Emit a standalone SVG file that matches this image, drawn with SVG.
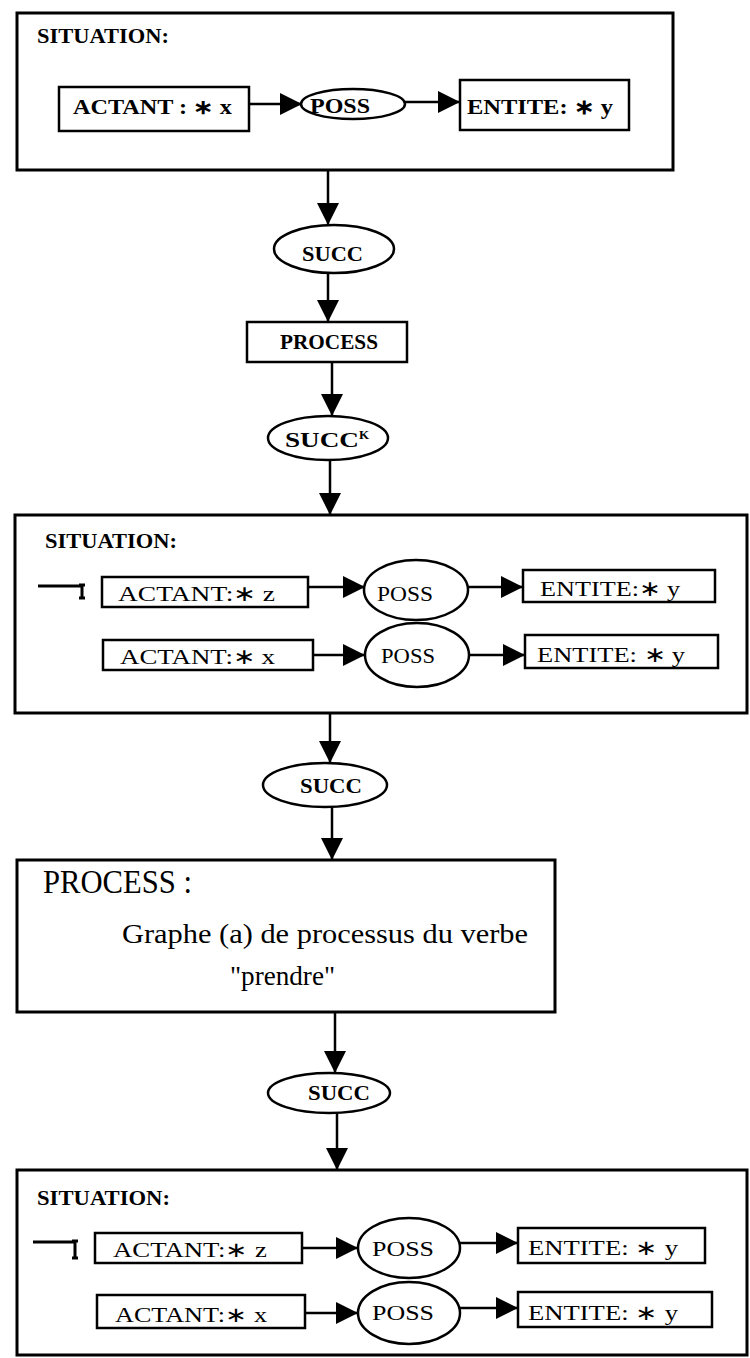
<svg xmlns="http://www.w3.org/2000/svg" width="750" height="1358" viewBox="0 0 750 1358">
<style>
text{font-family:"Liberation Serif","Times New Roman",serif;fill:#000}
.b{font-weight:bold}
.frame{fill:none;stroke:#000;stroke-width:3}
.box{fill:#fff;stroke:#000;stroke-width:2.5}
.ell{fill:#fff;stroke:#000;stroke-width:2.5}
.con{fill:none;stroke:#000;stroke-width:2.5}
.neg{fill:none;stroke:#000;stroke-width:3}
</style>
<defs>
<marker id="ah" markerUnits="userSpaceOnUse" markerWidth="22" markerHeight="22" refX="22" refY="11" orient="auto">
<path d="M0,0 L22,11 L0,22 z" fill="#000"/>
</marker>
</defs>
<rect x="0" y="0" width="750" height="1358" fill="#fff"/>

<!-- Situation 1 -->
<g id="situation1">
<rect class="frame" x="17" y="13" width="656" height="157"/>
<text class="b" x="37" y="43" font-size="21" textLength="132" lengthAdjust="spacingAndGlyphs">SITUATION:</text>
</g>
<g id="s1_actant">
<rect class="box" x="59" y="87" width="190" height="44"/>
<text class="b" x="73" y="114" font-size="20" textLength="159" lengthAdjust="spacingAndGlyphs">ACTANT : ∗ x</text>
</g>
<g id="s1_poss">
<ellipse class="ell" cx="353" cy="104" rx="52" ry="15"/>
<text class="b" x="310" y="113" font-size="21" textLength="60" lengthAdjust="spacingAndGlyphs">POSS</text>
</g>
<g id="s1_entite">
<rect class="box" x="460" y="80" width="169" height="50"/>
<text class="b" x="467" y="114" font-size="21" textLength="146" lengthAdjust="spacingAndGlyphs">ENTITE: ∗ y</text>
</g>

<g id="succ1">
<ellipse class="ell" cx="334" cy="249" rx="60" ry="24"/>
<text class="b" x="302" y="261" font-size="22" textLength="61" lengthAdjust="spacingAndGlyphs">SUCC</text>
</g>
<g id="process1">
<rect class="box" x="247" y="322" width="160" height="40"/>
<text class="b" x="280" y="349" font-size="20" textLength="98" lengthAdjust="spacingAndGlyphs">PROCESS</text>
</g>
<g id="succk">
<ellipse class="ell" cx="328" cy="438" rx="60" ry="22"/>
<text class="b" x="285" y="447" font-size="21"><tspan textLength="74" lengthAdjust="spacingAndGlyphs">SUCC</tspan><tspan dy="-8" font-size="13">K</tspan></text>
</g>

<!-- Situation 2 -->
<g id="situation2">
<rect class="frame" x="15" y="515" width="732" height="198"/>
<text class="b" x="45" y="548" font-size="21" textLength="132" lengthAdjust="spacingAndGlyphs">SITUATION:</text>
<path class="neg" d="M38,586 H82 M82,585 V598 M79,585 H85 M79,598 H85"/>
</g>
<g id="s2_actant_z">
<rect class="box" x="102" y="577" width="206" height="30"/>
<text x="118" y="601" font-size="22" textLength="157" lengthAdjust="spacingAndGlyphs">ACTANT:∗ z</text>
</g>
<g id="s2_actant_x">
<rect class="box" x="103" y="640" width="210" height="30"/>
<text x="120" y="664" font-size="22" textLength="155" lengthAdjust="spacingAndGlyphs">ACTANT:∗ x</text>
</g>
<g id="s2_poss_z">
<ellipse class="ell" cx="416" cy="590" rx="52" ry="30"/>
<text x="377" y="601" font-size="22" textLength="56" lengthAdjust="spacingAndGlyphs">POSS</text>
</g>
<g id="s2_poss_x">
<ellipse class="ell" cx="417" cy="655" rx="52" ry="32"/>
<text x="381" y="663" font-size="22" textLength="54" lengthAdjust="spacingAndGlyphs">POSS</text>
</g>
<g id="s2_entite_z">
<rect class="box" x="523" y="570" width="192" height="32"/>
<text x="540" y="596" font-size="22" textLength="140" lengthAdjust="spacingAndGlyphs">ENTITE:∗ y</text>
</g>
<g id="s2_entite_x">
<rect class="box" x="525" y="635" width="193" height="33"/>
<text x="537" y="662" font-size="22" textLength="148" lengthAdjust="spacingAndGlyphs">ENTITE: ∗ y</text>
</g>

<g id="succ2">
<ellipse class="ell" cx="325" cy="785" rx="62" ry="22"/>
<text class="b" x="300" y="793" font-size="21" textLength="62" lengthAdjust="spacingAndGlyphs">SUCC</text>
</g>
<g id="process2">
<rect class="frame" x="17" y="860" width="538" height="152"/>
<text x="43" y="893" font-size="33" textLength="149" lengthAdjust="spacingAndGlyphs">PROCESS :</text>
<text x="122" y="943" font-size="27" textLength="406" lengthAdjust="spacingAndGlyphs">Graphe (a) de processus du verbe</text>
<text x="230" y="985" font-size="27" textLength="105" lengthAdjust="spacingAndGlyphs">"prendre"</text>
</g>
<g id="succ3">
<ellipse class="ell" cx="329" cy="1093" rx="61" ry="20"/>
<text class="b" x="308" y="1100" font-size="21" textLength="62" lengthAdjust="spacingAndGlyphs">SUCC</text>
</g>

<!-- Situation 3 -->
<g id="situation3">
<rect class="frame" x="17" y="1170" width="730" height="185"/>
<text class="b" x="37" y="1205" font-size="21" textLength="133" lengthAdjust="spacingAndGlyphs">SITUATION:</text>
<path class="neg" d="M33,1242 H75 M75,1241 V1258 M72,1241 H78 M72,1258 H78"/>
</g>
<g id="s3_actant_z">
<rect class="box" x="95" y="1233" width="207" height="30"/>
<text x="113" y="1257" font-size="21" textLength="154" lengthAdjust="spacingAndGlyphs">ACTANT:∗ z</text>
</g>
<g id="s3_actant_x">
<rect class="box" x="97" y="1295" width="208" height="33"/>
<text x="115" y="1322" font-size="21" textLength="152" lengthAdjust="spacingAndGlyphs">ACTANT:∗ x</text>
</g>
<g id="s3_poss_z">
<ellipse class="ell" cx="409" cy="1248" rx="51" ry="30"/>
<text x="372" y="1256" font-size="22" textLength="62" lengthAdjust="spacingAndGlyphs">POSS</text>
</g>
<g id="s3_poss_x">
<ellipse class="ell" cx="409" cy="1313" rx="51" ry="31"/>
<text x="372" y="1320" font-size="22" textLength="62" lengthAdjust="spacingAndGlyphs">POSS</text>
</g>
<g id="s3_entite_z">
<rect class="box" x="518" y="1228" width="187" height="35"/>
<text x="528" y="1255" font-size="21" textLength="150" lengthAdjust="spacingAndGlyphs">ENTITE: ∗ y</text>
</g>
<g id="s3_entite_x">
<rect class="box" x="518" y="1292" width="194" height="35"/>
<text x="528" y="1320" font-size="21" textLength="150" lengthAdjust="spacingAndGlyphs">ENTITE: ∗ y</text>
</g>

<g id="connectors">
<line class="con" x1="249" y1="104" x2="302" y2="104" marker-end="url(#ah)"/>
<line class="con" x1="405" y1="102" x2="460" y2="102" marker-end="url(#ah)"/>
<line class="con" x1="328" y1="170" x2="328" y2="225" marker-end="url(#ah)"/>
<line class="con" x1="328" y1="273" x2="328" y2="322" marker-end="url(#ah)"/>
<line class="con" x1="332" y1="362" x2="332" y2="416" marker-end="url(#ah)"/>
<line class="con" x1="330" y1="460" x2="330" y2="515" marker-end="url(#ah)"/>
<line class="con" x1="308" y1="587" x2="365" y2="587" marker-end="url(#ah)"/>
<line class="con" x1="313" y1="655" x2="365" y2="655" marker-end="url(#ah)"/>
<line class="con" x1="468" y1="587" x2="523" y2="587" marker-end="url(#ah)"/>
<line class="con" x1="470" y1="655" x2="525" y2="655" marker-end="url(#ah)"/>
<line class="con" x1="330" y1="713" x2="330" y2="763" marker-end="url(#ah)"/>
<line class="con" x1="332" y1="807" x2="332" y2="860" marker-end="url(#ah)"/>
<line class="con" x1="335" y1="1012" x2="335" y2="1073" marker-end="url(#ah)"/>
<line class="con" x1="337" y1="1113" x2="337" y2="1170" marker-end="url(#ah)"/>
<line class="con" x1="302" y1="1248" x2="358" y2="1248" marker-end="url(#ah)"/>
<line class="con" x1="305" y1="1313" x2="358" y2="1313" marker-end="url(#ah)"/>
<line class="con" x1="460" y1="1243" x2="518" y2="1243" marker-end="url(#ah)"/>
<line class="con" x1="460" y1="1308" x2="518" y2="1308" marker-end="url(#ah)"/>
</g>
</svg>
